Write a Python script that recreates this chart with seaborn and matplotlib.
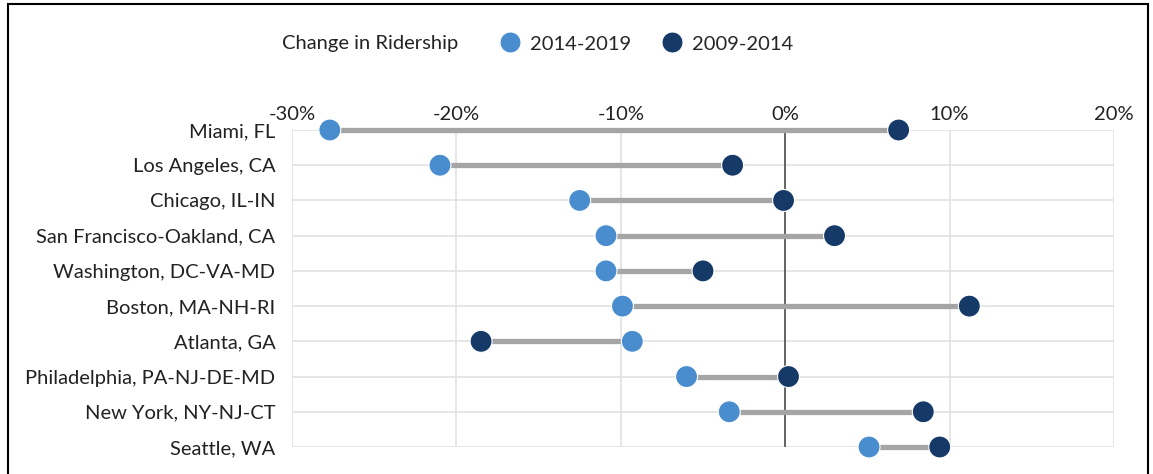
import pandas as pd
import numpy as np
import matplotlib.pyplot as plt
import seaborn as sns
from matplotlib.patches import Rectangle
from matplotlib.ticker import PercentFormatter

cities = ['Miami, FL', 'Los Angeles, CA', 'Chicago, IL-IN', 'San Francisco-Oakland, CA',
          'Washington, DC-VA-MD', 'Boston, MA-NH-RI', 'Atlanta, GA',
          'Philadelphia, PA-NJ-DE-MD', 'New York, NY-NJ-CT', 'Seattle, WA']
chg_2014_2019 = [-27.7, -21.0, -12.5, -10.9, -10.9, -9.9, -9.3, -6.0, -3.4, 5.1]
chg_2009_2014 = [6.9, -3.2, -0.1, 3.0, -5.0, 11.2, -18.5, 0.2, 8.4, 9.4]
periods = ['2014-2019', '2009-2014']
colors = ['#4a8dcf', '#163a68']

df = pd.DataFrame({'city': cities, '2014-2019': chg_2014_2019, '2009-2014': chg_2009_2014})
long = df.melt(id_vars='city', value_vars=periods, var_name='period', value_name='change')

sns.set_style('white')
plt.rcParams['font.family'] = ['Lato', 'DejaVu Sans']
plt.rcParams['axes.unicode_minus'] = False
fs = 14.5

fig = plt.figure(figsize=(11.53, 4.74), dpi=100)
ax = fig.add_axes([292 / 1153, 1 - 447 / 474, (1114 - 292) / 1153, (447 - 130) / 474])

# grey connectors
ax.hlines(df['city'], df[periods].min(axis=1), df[periods].max(axis=1),
          color='#a5a5a5', lw=3.8, zorder=2, clip_on=False)

sns.scatterplot(data=long, x='change', y='city', hue='period', hue_order=periods,
                palette=colors, s=250, edgecolor='white', linewidth=0.8,
                ax=ax, zorder=3, clip_on=False, legend=False)

ax.set_xlim(-30, 20)
ax.set_ylim(len(cities) - 1, 0)
ax.set_xticks(np.arange(-30, 21, 10))
ax.xaxis.set_major_formatter(PercentFormatter(decimals=0))
ax.xaxis.tick_top()
ax.set_xlabel('')
ax.set_ylabel('')
ax.grid(True, color='#e2e2e2', lw=1.2, zorder=0)
ax.axvline(0, color='#5a5a5a', lw=1.3, zorder=1)
for s in ax.spines.values():
    s.set_visible(False)
ax.tick_params(axis='both', length=0, labelsize=fs, colors='#222222')
ax.tick_params(axis='x', pad=5)
ax.tick_params(axis='y', pad=12)

# legend: title on the left, entries in one row
fig.text(282 / 1153, 1 - 44 / 474, 'Change in Ridership', fontsize=fs,
         va='center', ha='left', color='#222222')
handles = [plt.Line2D([], [], marker='o', ls='', ms=15, color=c, mec='white', mew=0.6)
           for c in colors]
fig.legend(handles, periods, loc='center left', bbox_to_anchor=(490 / 1153, 1 - 44 / 474),
           ncol=2, frameon=False, fontsize=fs, handletextpad=0.0, columnspacing=1.0,
           borderaxespad=0, borderpad=0)

# outer frame
fig.patches.append(Rectangle((8 / 1153, -0.01), 1140 / 1153, 1 - 4 / 474 + 0.01,
                             transform=fig.transFigure, fill=False, ec='black', lw=1.5))

fig.savefig('out.png', dpi=100)
